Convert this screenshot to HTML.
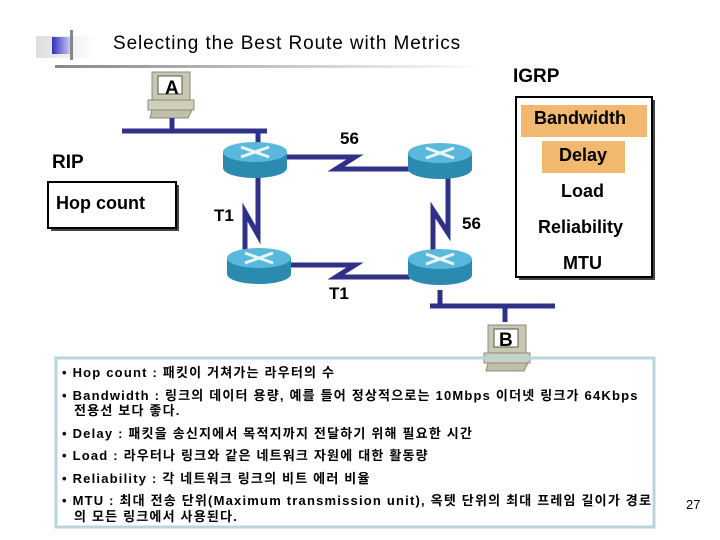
<!DOCTYPE html>
<html><head><meta charset="utf-8"><style>
body{margin:0;width:720px;height:540px;background:#fff;position:relative;overflow:hidden;font-family:"Liberation Sans","Noto Sans CJK KR",sans-serif}
.a{position:absolute;white-space:nowrap}
.b{font-weight:bold}
</style></head><body>
<svg class="a" style="left:0;top:0" width="720" height="540">
<defs>
<linearGradient id="g" x1="0" x2="1"><stop offset="0" stop-color="#888"/><stop offset="1" stop-color="#fff"/></linearGradient>
<linearGradient id="bl" x1="0" x2="1"><stop offset="0" stop-color="#3030c0"/><stop offset="1" stop-color="#c8c8f0"/></linearGradient>
<linearGradient id="gr" x1="0" x2="1"><stop offset="0" stop-color="#ddd"/><stop offset="1" stop-color="#fff"/></linearGradient>
<g id="r"><path d="M-32,0 v16 a32,10 0 0 0 64,0 v-16 z" fill="#2a8ab0"/><ellipse cx="0" cy="0" rx="32" ry="10" fill="#5ab8dc"/><path d="M-14,-5 L14,5 M-14,5 L14,-5" stroke="#e8f4f8" stroke-width="3"/></g>
<g id="pc"><rect x="0" y="0" width="38" height="28" fill="#c8c8b0" stroke="#888"/><rect x="6" y="4" width="24" height="18" fill="#fff" stroke="#555"/><rect x="-4" y="28" width="46" height="10" fill="#d0d0b8" stroke="#888"/><path d="M0,38 h40 l-4,8 h-38z" fill="#c0c0a8" stroke="#888"/></g>
</defs>
<rect x="36" y="36" width="60" height="22" fill="url(#gr)"/>
<rect x="52" y="37" width="18" height="17" fill="url(#bl)"/>
<rect x="70" y="30" width="3" height="30" fill="#888"/>
<rect x="55" y="65" width="430" height="3" fill="url(#g)"/>
<use href="#pc" x="152" y="72"/>
<use href="#pc" x="488" y="325"/>
<g stroke="#303088" stroke-width="5" fill="none">
<path d="M122,131 H267 M172,118 V131 M258,131 V148"/>
<path d="M287,157 H355 L336,169 H410"/>
<path d="M258,175 V235 L245,212 V255"/>
<path d="M448,175 V233 L433,210 V255"/>
<path d="M290,265 H355 L336,277 H410"/>
<path d="M430,306 H555 M440,290 V306 M505,306 V322"/>
</g>
<use href="#r" x="255" y="152"/>
<use href="#r" x="440" y="153"/>
<use href="#r" x="259" y="258"/>
<use href="#r" x="440" y="259"/>
<rect x="51" y="185" width="128" height="46" fill="#444"/>
<rect x="48" y="182" width="128" height="46" fill="#fff" stroke="#000" stroke-width="2"/>
<rect x="519" y="100" width="136" height="180" fill="#444"/>
<rect x="516" y="97" width="136" height="180" fill="#fff" stroke="#000" stroke-width="2"/>
<rect x="521" y="105" width="126" height="32" fill="#f2b870"/>
<rect x="542" y="141" width="83" height="32" fill="#f2b870"/>
<rect x="56" y="358" width="598" height="169" fill="none" stroke="#b8d4dc" stroke-width="3"/>
</svg>
<div class="a" style="left:113px;top:33px;font-size:19px;letter-spacing:0.9px">Selecting the Best Route with Metrics</div>
<div class="a b" style="left:165px;top:78px;font-size:19px">A</div>
<div class="a b" style="left:499px;top:330px;font-size:19px">B</div>
<div class="a b" style="left:513px;top:66px;font-size:19px">IGRP</div>
<div class="a b" style="left:52px;top:152px;font-size:19px">RIP</div>
<div class="a b" style="left:56px;top:193px;font-size:18px">Hop count</div>
<div class="a b" style="left:534px;top:108px;font-size:18px">Bandwidth</div>
<div class="a b" style="left:559px;top:145px;font-size:18px">Delay</div>
<div class="a b" style="left:561px;top:181px;font-size:18px">Load</div>
<div class="a b" style="left:538px;top:217px;font-size:18px">Reliability</div>
<div class="a b" style="left:563px;top:253px;font-size:18px">MTU</div>
<div class="a b" style="left:340px;top:129px;font-size:17px">56</div>
<div class="a b" style="left:462px;top:214px;font-size:17px">56</div>
<div class="a b" style="left:214px;top:206px;font-size:17px">T1</div>
<div class="a b" style="left:329px;top:284px;font-size:17px">T1</div>
<div class="a" style="left:62px;top:362px;font-size:13px;line-height:22.5px;font-weight:bold;letter-spacing:1.2px">
• Hop count : 패킷이 거쳐가는 라우터의 수<br>
• Bandwidth : 링크의 데이터 용량, 예를 들어 정상적으로는 10Mbps 이더넷 링크가 64Kbps<br>
<span style="display:block;margin-top:-7px;padding-left:12px">전용선 보다 좋다.</span>
• Delay : 패킷을 송신지에서 목적지까지 전달하기 위해 필요한 시간<br>
• Load : 라우터나 링크와 같은 네트워크 자원에 대한 활동량<br>
• Reliability : 각 네트워크 링크의 비트 에러 비율<br>
• MTU : 최대 전송 단위(Maximum transmission unit), 옥텟 단위의 최대 프레임 길이가 경로<br>
<span style="display:block;margin-top:-7px;padding-left:12px">의 모든 링크에서 사용된다.</span>
</div>
<div class="a" style="left:686px;top:497px;font-size:13px">27</div>
</body></html>
